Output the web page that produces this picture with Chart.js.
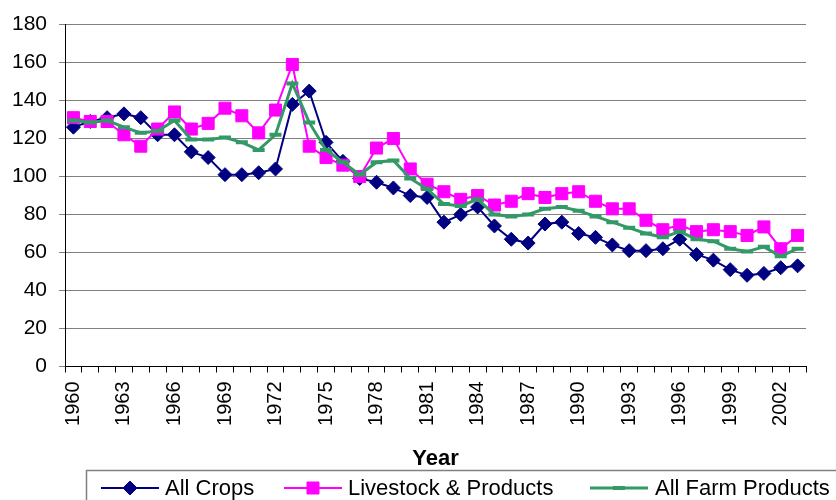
<!DOCTYPE html>
<html><head><meta charset="utf-8">
<script src="https://cdn.jsdelivr.net/npm/chart.js@4.4.1/dist/chart.umd.min.js"></script>
<style>html,body{margin:0;padding:0;background:#fff}#wrap{position:relative;width:836px;height:500px}</style>
</head><body><div id="wrap"><canvas id="c" width="836" height="500"></canvas></div>
<script>
const years = ['1960','1961','1962','1963','1964','1965','1966','1967','1968','1969','1970','1971','1972','1973','1974','1975','1976','1977','1978','1979','1980','1981','1982','1983','1984','1985','1986','1987','1988','1989','1990','1991','1992','1993','1994','1995','1996','1997','1998','1999','2000','2001','2002','2003'];
const allCrops = [126,129,131,133,131,122,122,113,110,101,101,102,104,138,145,118,108,99,97,94,90,89,76,80,84,74,67,65,75,76,70,68,64,61,61,62,67,59,56,51,48,49,52,53];
const livestock = [131,129,129,122,116,125,134,125,128,136,132,123,135,159,116,110,106,100,115,120,104,96,92,88,90,85,87,91,89,91,92,87,83,83,77,72,74.5,71,72,71,69,73.5,62,69];
const allFarm = [129.5,128.5,129.5,126,123,124,129.5,119.5,119.5,120.5,118,114,122,149,128.5,114,107.5,101,107.5,108.5,99,93.5,85.5,84.5,88,80,79,80,83,84,82,79,76,73,70,68,71,67,66,62,60.5,63,58,62];
const seriesNames = ['All Crops','Livestock & Products','All Farm Products'];
const xTitle = 'Year';
const yMin = 0, yMax = 180, yStep = 20;
const labelEvery = 3;

const FONT = "'Liberation Sans', Arial, sans-serif";

const legendPlugin = {
  id: 'boxLegend',
  afterDraw(chart) {
    const ctx = chart.ctx;
    ctx.save();
    ctx.strokeStyle = '#808080';
    ctx.lineWidth = 1.5;
    ctx.strokeRect(86.5, 470.5, 800, 40);
    const y = 488;
    const pos = [{x1:101,x2:159,tx:165},{x1:284,x2:342,tx:348},{x1:590,x2:648,tx:655}];
    chart.data.datasets.forEach((ds, i) => {
      const p = pos[i];
      ctx.strokeStyle = ds.borderColor;
      ctx.lineWidth = ds.borderWidth;
      ctx.beginPath(); ctx.moveTo(p.x1, y); ctx.lineTo(p.x2, y); ctx.stroke();
      ctx.fillStyle = ds.pointBackgroundColor;
      ctx.strokeStyle = ds.pointBorderColor;
      ctx.lineWidth = ds.pointBorderWidth;
      Chart.helpers.drawPoint(ctx, {pointStyle: ds.pointStyle, radius: ds.pointRadius, borderWidth: ds.pointBorderWidth, rotation: 0}, (p.x1 + p.x2) / 2, y);
      ctx.fillStyle = '#000';
      ctx.font = '22px ' + FONT;
      ctx.textAlign = 'left';
      ctx.textBaseline = 'middle';
      ctx.fillText(ds.label, p.tx, y + 1);
    });
    ctx.restore();
  }
};

new Chart(document.getElementById('c'), {
  type: 'line',
  data: {
    labels: years,
    datasets: [
      {label: seriesNames[0], data: allCrops, borderColor: '#000080', backgroundColor: '#000080', borderWidth: 2,
       pointStyle: 'rectRot', pointRadius: 7, pointBackgroundColor: '#000080', pointBorderColor: '#000080', pointBorderWidth: 1, order: 2, tension: 0},
      {label: seriesNames[1], data: livestock, borderColor: '#FF00FF', backgroundColor: '#FF00FF', borderWidth: 2,
       pointStyle: 'rect', pointRadius: 8.5, pointBackgroundColor: '#FF00FF', pointBorderColor: '#FF00FF', pointBorderWidth: 1, order: 1, tension: 0},
      {label: seriesNames[2], data: allFarm, borderColor: '#339966', backgroundColor: '#339966', borderWidth: 3,
       pointStyle: 'line', pointRadius: 6, pointBackgroundColor: '#339966', pointBorderColor: '#339966', pointBorderWidth: 4, order: 0, tension: 0}
    ]
  },
  options: {
    responsive: false,
    animation: false,
    devicePixelRatio: 1,
    layout: {padding: {left: 0, top: 23, right: 30, bottom: 27.5}},
    plugins: {legend: {display: false}, tooltip: {enabled: false}},
    scales: {
      x: {
        type: 'category',
        offset: true,
        afterFit: s => { s.height = 106; },
        grid: {display: true, drawOnChartArea: false, drawTicks: true, tickLength: 6, color: '#000', offset: true},
        border: {display: true, color: '#000', width: 1},
        ticks: {autoSkip: false, maxRotation: 90, minRotation: 90, padding: 9, color: '#000',
          font: {family: FONT, size: 20},
          callback: (v, i) => (i % labelEvery === 0 ? years[i] : '')},
        title: {display: true, text: xTitle, color: '#000', font: {family: FONT, size: 22, weight: 'bold'}, padding: {top: 0, bottom: 0}}
      },
      y: {
        min: yMin, max: yMax,
        afterFit: s => { s.width = 65; },
        ticks: {stepSize: yStep, padding: 12, color: '#000', font: {family: FONT, size: 21}},
        grid: {color: c => (c.tick && c.tick.value === 0 ? '#000' : '#808080'), tickColor: '#808080', tickLength: 6, lineWidth: 1},
        border: {display: true, color: '#000', width: 1}
      }
    }
  },
  plugins: [legendPlugin]
});
</script>
</body></html>
